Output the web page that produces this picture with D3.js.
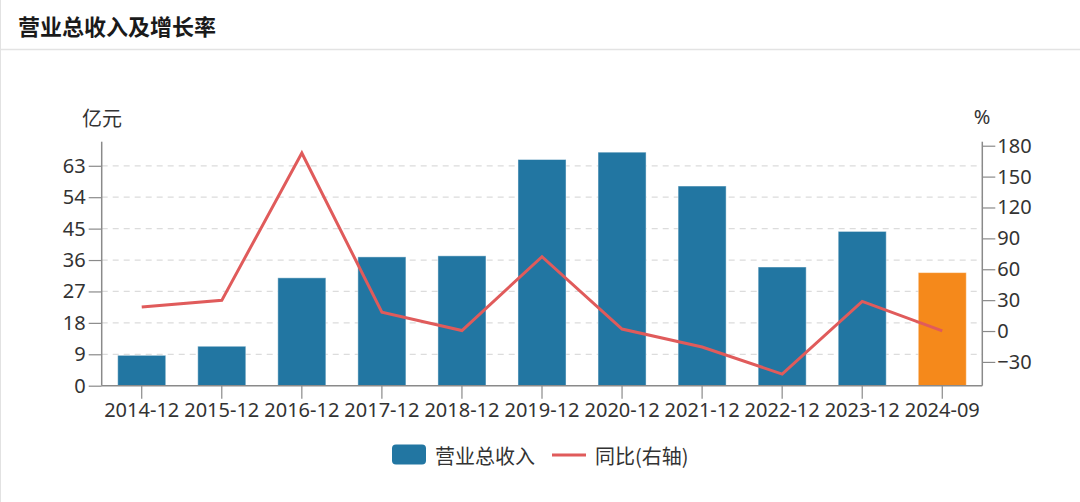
<!DOCTYPE html>
<html>
<head>
<meta charset="utf-8">
<script src="https://cdn.jsdelivr.net/npm/d3@7"></script>
<style>
  html, body { margin: 0; padding: 0; background: #fff; }
  svg { display: block; }
  text { font-family: "Noto Sans", "Noto Sans CJK SC", sans-serif; }
</style>
</head>
<body>
<svg id="chart" width="1080" height="502"></svg>
<script>
const categories = ["2014-12","2015-12","2016-12","2017-12","2018-12","2019-12","2020-12","2021-12","2022-12","2023-12","2024-09"];
const revenue = [8.7, 11.3, 30.9, 36.9, 37.2, 64.8, 66.9, 57.2, 34.0, 44.2, 32.4];
const growth = [23.3, 29.8, 172.9, 18.2, 0.5, 72.2, 1.9, -15.5, -41.8, 28.8, 0.2];
const leftTicks = [0, 9, 18, 27, 36, 45, 54, 63];
const rightTicks = [-30, 0, 30, 60, 90, 120, 150, 180];
const title = "营业总收入及增长率";
const leftUnit = "亿元";
const rightUnit = "%";
const seriesNames = ["营业总收入", "同比(右轴)"];

const W = 1080, H = 502;
const m = { left: 101.7, right: 982.3, top: 141.7, bottom: 385.7 };
const svg = d3.select("#chart");

// card
svg.append("rect").attr("x", 0.5).attr("y", -6).attr("width", W + 10).attr("height", H + 20)
  .attr("rx", 6).attr("fill", "#fff").attr("stroke", "#e2e2e2");
svg.append("line").attr("x1", 1).attr("x2", W).attr("y1", 49.5).attr("y2", 49.5)
  .attr("stroke", "#e3e3e3").attr("stroke-width", 1.5);
svg.append("text").attr("x", 18).attr("y", 25).attr("dominant-baseline", "central")
  .style("font-family", '"Noto Sans CJK SC", sans-serif')
  .style("font-size", "22px").style("font-weight", "bold").attr("fill", "#1a1a1a").text(title);

const x = d3.scaleBand().domain(categories).range([m.left, m.right]).paddingInner(0.4).paddingOuter(0.2);
const y = d3.scaleLinear().domain([0, 69.9]).range([m.bottom, m.top]);
const y2 = d3.scaleLinear().domain([-53.1, 183.9]).range([m.bottom, m.top]);

// gridlines
svg.append("g").selectAll("line").data(leftTicks.filter(d => d > 0)).join("line")
  .attr("x1", m.left).attr("x2", m.right)
  .attr("y1", d => y(d)).attr("y2", d => y(d))
  .attr("stroke", "#dcdcdc").attr("stroke-width", 1.2).attr("stroke-dasharray", "6,5");

// bars
svg.append("g").selectAll("rect").data(categories).join("rect")
  .attr("x", d => x(d)).attr("width", x.bandwidth())
  .attr("y", (d, i) => y(revenue[i])).attr("height", (d, i) => y(0) - y(revenue[i]))
  .attr("fill", (d, i) => i === categories.length - 1 ? "#f5891b" : "#2276a2")
  .attr("stroke", "#ffffff").attr("stroke-opacity", 0.45).attr("stroke-width", 1);

// line
const line = d3.line().x((d, i) => x(categories[i]) + x.bandwidth() / 2).y(d => y2(d));
svg.append("path").datum(growth).attr("d", line).attr("fill", "none")
  .attr("stroke", "#e05b5b").attr("stroke-width", 3).attr("stroke-linejoin", "miter");

const axisColor = "#8a8a8a";
const gl = svg.append("g").attr("transform", `translate(${m.left},0)`)
  .call(d3.axisLeft(y).tickValues(leftTicks).tickSize(13).tickPadding(3).tickSizeOuter(0));
const gb = svg.append("g").attr("transform", `translate(0,${m.bottom})`)
  .call(d3.axisBottom(x).tickSize(13).tickPadding(4).tickSizeOuter(0));
const gr = svg.append("g").attr("transform", `translate(${m.right},0)`)
  .call(d3.axisRight(y2).tickValues(rightTicks).tickSize(13).tickPadding(2).tickSizeOuter(0));

[gl, gb, gr].forEach(g => {
  g.select(".domain").attr("stroke", axisColor).attr("stroke-width", 1.5);
  g.selectAll(".tick line").attr("stroke", axisColor).attr("stroke-width", 1.2);
  g.selectAll(".tick text").attr("fill", "#333").style("font-size", "20px")
    .style("font-family", '"Noto Sans", sans-serif');
});
gl.select(".domain").attr("d", `M0,${m.top}V${m.bottom}`);
gr.select(".domain").attr("d", `M0,${m.top}V${m.bottom}`);
gb.select(".domain").attr("d", `M${m.left},0H${m.right}`);

// units
svg.append("text").attr("x", 102).attr("y", 117).attr("text-anchor", "middle").attr("dominant-baseline", "central")
  .style("font-family", '"Noto Sans CJK SC", sans-serif').style("font-size", "20px").attr("fill", "#333").text(leftUnit);
svg.append("text").attr("x", 982).attr("y", 116).attr("text-anchor", "middle").attr("dominant-baseline", "central")
  .style("font-size", "20px").attr("fill", "#333").text(rightUnit);

// legend
const lg = svg.append("g");
lg.append("rect").attr("x", 392).attr("y", 444.5).attr("width", 34).attr("height", 20).attr("rx", 4).attr("fill", "#2276a2");
lg.append("text").attr("x", 435).attr("y", 455).attr("dominant-baseline", "central")
  .style("font-family", '"Noto Sans CJK SC", sans-serif').style("font-size", "20px").attr("fill", "#333").text(seriesNames[0]);
lg.append("line").attr("x1", 552).attr("x2", 586).attr("y1", 455).attr("y2", 455).attr("stroke", "#e05b5b").attr("stroke-width", 3);
lg.append("text").attr("x", 595).attr("y", 455).attr("dominant-baseline", "central")
  .style("font-family", '"Noto Sans CJK SC", sans-serif').style("font-size", "20px").attr("fill", "#333").text(seriesNames[1]);
</script>
</body>
</html>
